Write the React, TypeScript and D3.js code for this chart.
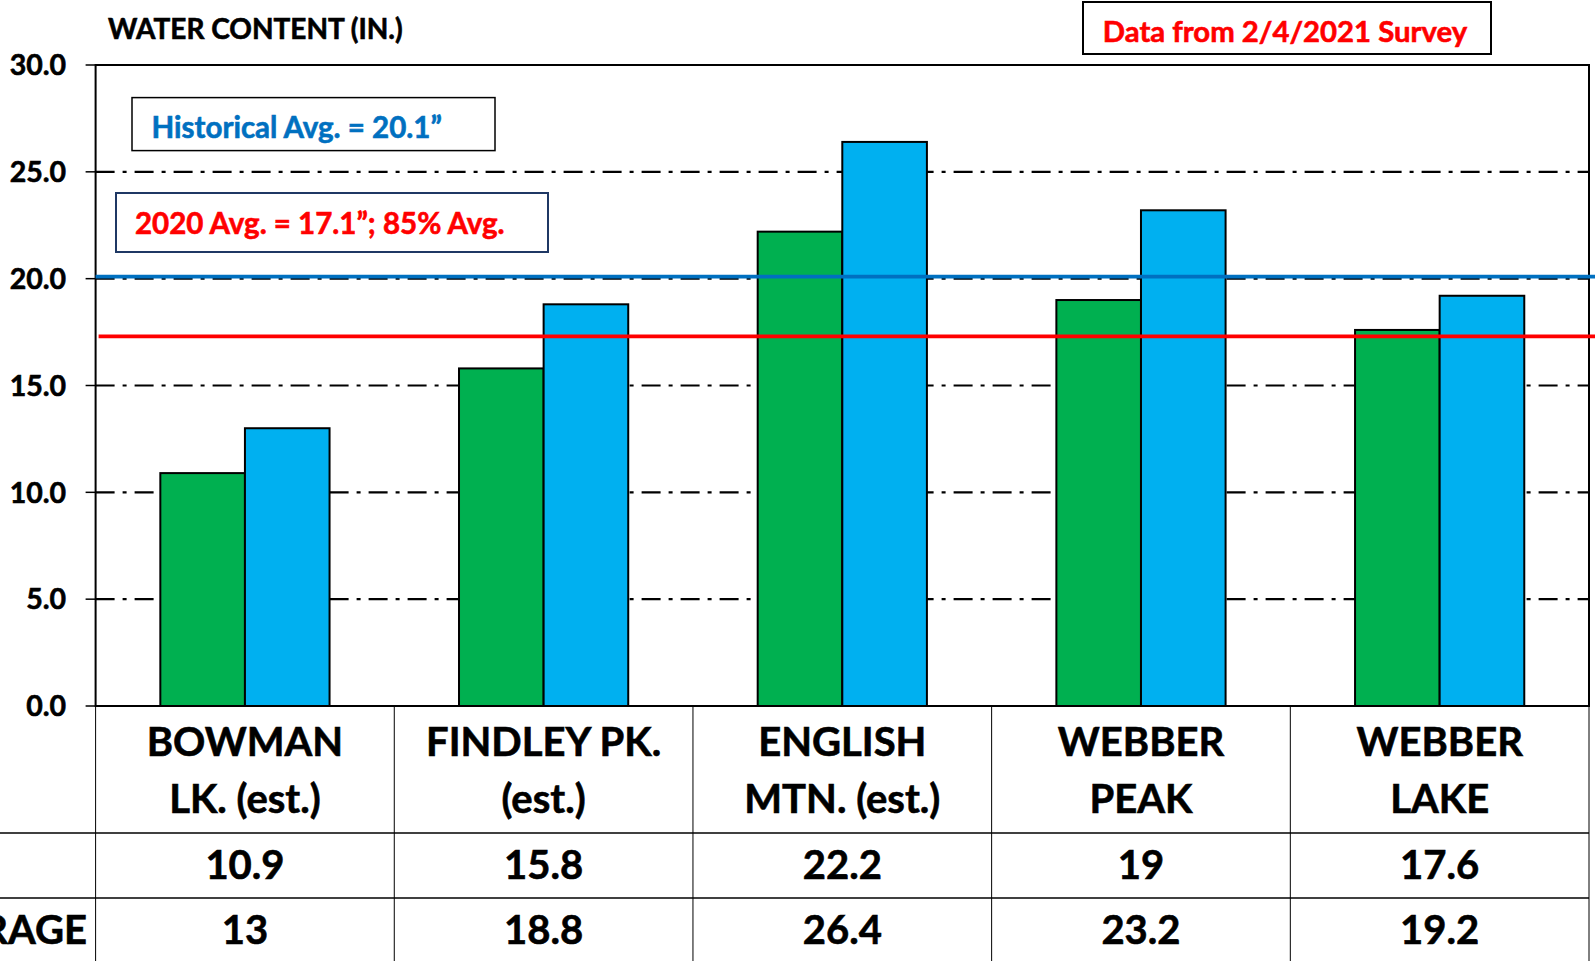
import React from "react";
import * as d3 from "d3";

const categories: string[][] = [
  ["BOWMAN", "LK. (est.)"],
  ["FINDLEY PK.", "(est.)"],
  ["ENGLISH", "MTN. (est.)"],
  ["WEBBER", "PEAK"],
  ["WEBBER", "LAKE"],
];
const currentValues: number[] = [10.9, 15.8, 22.2, 19, 17.6];
const averageValues: number[] = [13, 18.8, 26.4, 23.2, 19.2];
const currentLabels: string[] = ["10.9", "15.8", "22.2", "19", "17.6"];
const averageLabels: string[] = ["13", "18.8", "26.4", "23.2", "19.2"];
const yTicks: number[] = [0, 5, 10, 15, 20, 25, 30];
const gridValues: number[] = [5, 10, 15, 20, 25];
const historicalAvg = 20.1;
const avg2020 = 17.3;
const rowLabels: string[] = ["", "AVERAGE"];

const W = 1595;
const H = 961;
const FONT = "Lato, 'Open Sans', sans-serif";

export default function App() {
  const plotL = 95.6;
  const plotR = 1589;
  const plotT = 65;
  const plotB = 706;

  const x = d3
    .scaleBand<number>()
    .domain(categories.map((_, i) => i))
    .range([plotL, plotR])
    .padding(0);
  const inner = d3
    .scaleBand<number>()
    .domain([0, 1])
    .range([0, x.bandwidth()])
    .paddingInner(0)
    .paddingOuter(0.765);
  const y = d3.scaleLinear().domain([0, 30]).range([plotB, plotT]);

  const row1 = 833;
  const row2 = 898;
  const series = [
    { vals: currentValues, color: "#00B050" },
    { vals: averageValues, color: "#00B0F0" },
  ];
  const heavy = (c: string) => ({ stroke: c, strokeWidth: 0.6, fill: c });

  return (
    <div style={{ position: "fixed", left: 0, top: 0 }}>
      <svg width={W} height={H} style={{ display: "block", background: "#fff" }} fontFamily={FONT}>
        {gridValues.map((v) => (
          <line
            key={"g" + v}
            x1={plotL}
            x2={plotR}
            y1={y(v)}
            y2={y(v)}
            stroke="#000"
            strokeWidth={2.2}
            strokeDasharray="19 8 4 8"
          />
        ))}
        <rect x={plotL} y={plotT} width={plotR - plotL} height={plotB - plotT} fill="none" stroke="#000" strokeWidth={2} />
        {yTicks.map((t) => (
          <g key={"t" + t}>
            <line x1={plotL - 10} x2={plotL} y1={y(t)} y2={y(t)} stroke="#000" strokeWidth={1.5} />
            <text x={66} y={y(t)} dy="0.36em" textAnchor="end" fontSize={28.5} fontWeight={700} {...heavy("#000")}>
              {t.toFixed(1)}
            </text>
          </g>
        ))}
        {categories.map((_, i) =>
          series.map((s, j) => (
            <rect
              key={`b${i}-${j}`}
              x={(x(i) as number) + (inner(j) as number)}
              y={y(s.vals[i])}
              width={inner.bandwidth()}
              height={plotB - y(s.vals[i])}
              fill={s.color}
              stroke="#000"
              strokeWidth={2}
            />
          ))
        )}
        <line x1={plotL} x2={W} y1={y(historicalAvg)} y2={y(historicalAvg)} stroke="#0070C0" strokeWidth={3.8} />
        <line x1={plotL + 3} x2={W} y1={y(avg2020)} y2={y(avg2020)} stroke="#FF0000" strokeWidth={3.8} />
        <line x1={plotL} x2={plotR} y1={plotB} y2={plotB} stroke="#000" strokeWidth={2} />

        <text x={108} y={28.5} dy="0.36em" fontSize={28} fontWeight={700} {...heavy("#000")}>
          WATER CONTENT (IN.)
        </text>
        <rect x={1083} y={2} width={408} height={52} fill="#fff" stroke="#000" strokeWidth={2} />
        <text x={1285} y={31.5} dy="0.36em" textAnchor="middle" fontSize={29.3} fontWeight={700} {...heavy("#FF0000")}>
          Data from 2/4/2021 Survey
        </text>
        <rect x={132} y={97.6} width={363} height={53} fill="#fff" stroke="#000" strokeWidth={1.5} />
        <text x={151.6} y={127} dy="0.36em" fontSize={29.5} fontWeight={700} {...heavy("#0070C0")}>
          Historical Avg. = 20.1”
        </text>
        <rect x={116} y={193} width={432} height={59} fill="#fff" stroke="#1F3864" strokeWidth={2} />
        <text x={135} y={223} dy="0.36em" fontSize={29.5} fontWeight={700} {...heavy("#FF0000")}>
          2020 Avg. = 17.1”; 85% Avg.
        </text>

        {categories.map((_, i) => (
          <line
            key={"v" + i}
            x1={x(i) as number}
            x2={x(i) as number}
            y1={plotB}
            y2={H}
            stroke="#000"
            strokeWidth={1}
          />
        ))}
        <line x1={plotR} x2={plotR} y1={plotB} y2={H} stroke="#000" strokeWidth={1} />
        <line x1={0} x2={plotR} y1={row1} y2={row1} stroke="#000" strokeWidth={1.5} />
        <line x1={0} x2={plotR} y1={row2} y2={row2} stroke="#000" strokeWidth={1.5} />
        {categories.map((c, i) => {
          const cx = (x(i) as number) + x.bandwidth() / 2;
          return (
            <g key={"c" + i} fontSize={40} fontWeight={700} textAnchor="middle" {...heavy("#000")}>
              <text x={cx} y={741.5} dy="0.36em">{c[0]}</text>
              <text x={cx} y={798.5} dy="0.36em">{c[1]}</text>
              <text x={cx} y={865} dy="0.36em">{currentLabels[i]}</text>
              <text x={cx} y={930} dy="0.36em">{averageLabels[i]}</text>
            </g>
          );
        })}
        <text x={87} y={865} dy="0.36em" textAnchor="end" fontSize={40} fontWeight={700} {...heavy("#000")}>
          {rowLabels[0]}
        </text>
        <text x={87} y={930} dy="0.36em" textAnchor="end" fontSize={40} fontWeight={700} {...heavy("#000")}>
          {rowLabels[1]}
        </text>
      </svg>
    </div>
  );
}
